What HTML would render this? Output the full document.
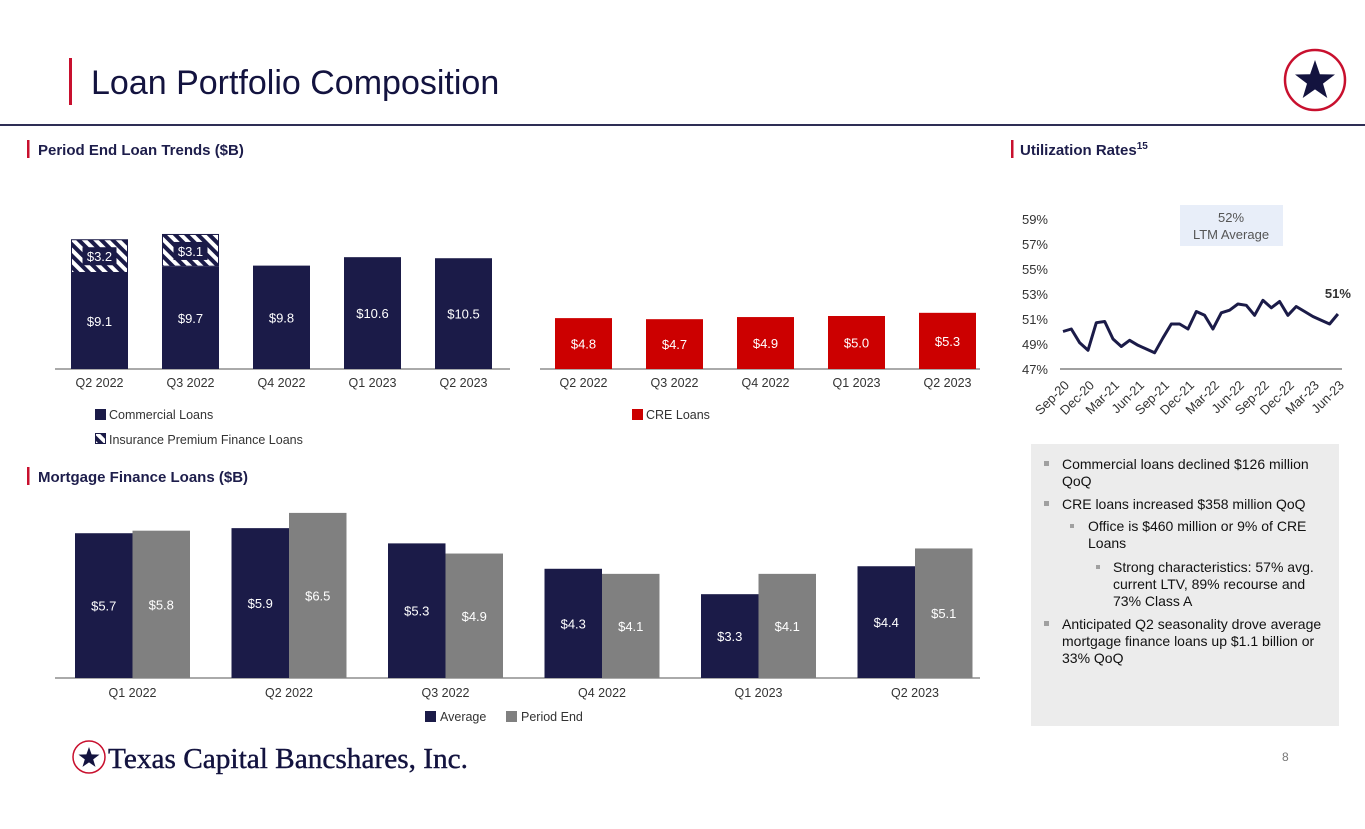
<!DOCTYPE html>
<html><head><meta charset="utf-8"><style>
body{margin:0;background:#fff;}
svg{display:block;font-family:"Liberation Sans",Arial,sans-serif;}
</style></head><body>
<svg id="s" width="1365" height="829" viewBox="0 0 1365 829" xmlns="http://www.w3.org/2000/svg">
<defs>
<pattern id="hatch" patternUnits="userSpaceOnUse" width="8" height="8" patternTransform="rotate(-45)">
<rect width="8" height="8" fill="#1b1b48"/><rect width="4" height="8" fill="#fff"/>
</pattern>
</defs>
<rect x="69" y="58" width="3" height="47" fill="#c8102e"/>
<text x="91" y="94" font-size="34" fill="#13133f">Loan Portfolio Composition</text>
<g>
<circle cx="1315" cy="80" r="30" fill="#fff" stroke="#c8102e" stroke-width="2.5"/>
<polygon id="starTop" fill="#13133f" points=""/>
</g>
<rect x="0" y="124" width="1365" height="2" fill="#2e2e55"/>

<rect x="27" y="140" width="2.5" height="18" fill="#c8102e"/>
<text x="38" y="155" font-size="15" font-weight="bold" fill="#1d1d4b">Period End Loan Trends ($B)</text>
<rect x="1011" y="140" width="2.5" height="18" fill="#c8102e"/>
<text x="1020" y="155" font-size="15" font-weight="bold" fill="#1d1d4b">Utilization Rates<tspan font-size="10" dy="-6">15</tspan></text>
<rect x="27" y="467" width="2.5" height="18" fill="#c8102e"/>
<text x="38" y="482" font-size="15" font-weight="bold" fill="#1d1d4b">Mortgage Finance Loans ($B)</text>

<g id="commChart"></g>
<g id="creChart"></g>
<g id="mortChart"></g>
<g id="utilChart"></g>

<g>
<rect x="95" y="409" width="11" height="11" fill="#1b1b48"/>
<text x="109" y="419" font-size="12.5" fill="#333">Commercial Loans</text></g>
<g>
<rect x="95.5" y="433.5" width="10" height="10" fill="url(#hatch)" stroke="#1b1b48"/>
<text x="109" y="444" font-size="12.5" fill="#333">Insurance Premium Finance Loans</text></g>
<g>
<rect x="632" y="409" width="11" height="11" fill="#cc0000"/>
<text x="646" y="419" font-size="12.5" fill="#333">CRE Loans</text></g>
<g>
<rect x="425" y="711" width="11" height="11" fill="#1b1b48"/>
<text x="440" y="721" font-size="12.5" fill="#333">Average</text></g>
<g>
<rect x="506" y="711" width="11" height="11" fill="#808080"/>
<text x="521" y="721" font-size="12.5" fill="#333">Period End</text></g>

<g>
<rect x="1180" y="205" width="103" height="41" fill="#e8eef9"/>
<text x="1231" y="222" font-size="13" fill="#555" text-anchor="middle">52%</text>
<text x="1231" y="239" font-size="13" fill="#555" text-anchor="middle">LTM Average</text></g>

<g font-size="14" fill="#111">
<rect x="1031" y="444" width="308" height="282" fill="#ececec"/>
<rect x="1044" y="461" width="5" height="5" fill="#a0a0a0"/>
<text x="1062" y="469">Commercial loans declined $126 million</text>
<text x="1062" y="486">QoQ</text>
<rect x="1044" y="501" width="5" height="5" fill="#a0a0a0"/>
<text x="1062" y="509">CRE loans increased $358 million QoQ</text>
<rect x="1070" y="524" width="4" height="4" fill="#a0a0a0"/>
<text x="1088" y="531">Office is $460 million or 9% of CRE</text>
<text x="1088" y="548">Loans</text>
<rect x="1096" y="565" width="4" height="4" fill="#a0a0a0"/>
<text x="1113" y="572">Strong characteristics: 57% avg.</text>
<text x="1113" y="589">current LTV, 89% recourse and</text>
<text x="1113" y="606">73% Class A</text>
<rect x="1044" y="621" width="5" height="5" fill="#a0a0a0"/>
<text x="1062" y="629">Anticipated Q2 seasonality drove average</text>
<text x="1062" y="646">mortgage finance loans up $1.1 billion or</text>
<text x="1062" y="663">33% QoQ</text>
</g>

<g>
<circle cx="89" cy="757" r="16" fill="#fff" stroke="#c8102e" stroke-width="1.5"/>
<polygon id="starFoot" fill="#13133f" points=""/>
<text x="108" y="768" font-family="'Liberation Serif',serif" font-size="28" fill="#13133f" stroke="#13133f" stroke-width="0.4" textLength="360" lengthAdjust="spacingAndGlyphs">Texas Capital Bancshares, Inc.</text>
</g>
<text x="1282" y="761" font-size="12" fill="#777">8</text>
</svg>
<script>
const NS="http://www.w3.org/2000/svg";
function mk(tag,attrs,parent,txt){const e=document.createElementNS(NS,tag);for(const k in attrs)e.setAttribute(k,attrs[k]);if(txt!==undefined)e.textContent=txt;parent.appendChild(e);return e;}
function star(id,cx,cy,R){const r=R*0.4;let p=[];for(let i=0;i<10;i++){const a=-Math.PI/2+i*Math.PI/5;const rr=i%2?r:R;p.push((cx+rr*Math.cos(a)).toFixed(1)+","+(cy+rr*Math.sin(a)).toFixed(1));}document.getElementById(id).setAttribute("points",p.join(" "));}
star("starTop",1315,81,21);star("starFoot",89,758,11);

// ---- data ----
const commCats=["Q2 2022","Q3 2022","Q4 2022","Q1 2023","Q2 2023"];
const commValues=[9.1,9.7,9.8,10.6,10.5];
const ipfValues=[3.2,3.1,0,0,0];
const creCats=["Q2 2022","Q3 2022","Q4 2022","Q1 2023","Q2 2023"];
const creValues=[4.8,4.7,4.9,5.0,5.3];
const mortCats=["Q1 2022","Q2 2022","Q3 2022","Q4 2022","Q1 2023","Q2 2023"];
const mortAverage=[5.7,5.9,5.3,4.3,3.3,4.4];
const mortPeriodEnd=[5.8,6.5,4.9,4.1,4.1,5.1];
const utilMonths=["Sep-20","Oct-20","Nov-20","Dec-20","Jan-21","Feb-21","Mar-21","Apr-21","May-21","Jun-21","Jul-21","Aug-21","Sep-21","Oct-21","Nov-21","Dec-21","Jan-22","Feb-22","Mar-22","Apr-22","May-22","Jun-22","Jul-22","Aug-22","Sep-22","Oct-22","Nov-22","Dec-22","Jan-23","Feb-23","Mar-23","Apr-23","May-23","Jun-23"];
const utilValues=[50.0,50.2,49.1,48.5,50.7,50.8,49.4,48.8,49.3,48.9,48.6,48.3,49.5,50.6,50.6,50.2,51.6,51.3,50.2,51.5,51.7,52.2,52.1,51.3,52.5,51.9,52.4,51.3,52.0,51.6,51.2,50.9,50.6,51.4];
const utilTicks=[47,49,51,53,55,57,59];

// ---- period-end commercial stacked ----
(function(){
 const g=document.getElementById("commChart");
 const base=369,k=10.55,x0=71,step=91,w=57;
 const y=v=>base-v*k;
 mk("line",{x1:55,y1:base,x2:510,y2:base,stroke:"#555","stroke-width":1},g);
 commCats.forEach((c,i)=>{
  const x=x0+i*step;
  const b=mk("rect",{x:x,y:y(commValues[i]),width:w,height:commValues[i]*k,fill:"#1b1b48"},g);
  
  
  const t=mk("text",{x:x+w/2,y:(y(commValues[i])+base)/2+5,"font-size":13,fill:"#fff","text-anchor":"middle"},g,"$"+commValues[i].toFixed(1));
  
  
  if(ipfValues[i]>0){
   const top=y(commValues[i])-ipfValues[i]*k;
   const h=mk("rect",{x:x+0.5,y:top+0.5,width:w-1,height:ipfValues[i]*k-1,fill:"url(#hatch)",stroke:"#1b1b48","stroke-width":1},g);
   
   
   mk("rect",{x:x+w/2-17,y:top+8,width:34,height:18,fill:"#1b1b48"},g);
   const lt=mk("text",{x:x+w/2,y:top+22,"font-size":13,fill:"#fff","text-anchor":"middle"},g,"$"+ipfValues[i].toFixed(1));
   
   
  }
  const l=mk("text",{x:x+w/2,y:387,"font-size":12.5,fill:"#333","text-anchor":"middle"},g,c);
  
  
 });
})();
// ---- CRE ----
(function(){
 const g=document.getElementById("creChart");
 const base=369,k=10.6,x0=555,step=91,w=57;
 mk("line",{x1:540,y1:base,x2:980,y2:base,stroke:"#555","stroke-width":1},g);
 creCats.forEach((c,i)=>{
  const x=x0+i*step,h=creValues[i]*k;
  const b=mk("rect",{x:x,y:base-h,width:w,height:h,fill:"#cc0000"},g);
  
  
  const t=mk("text",{x:x+w/2,y:base-h/2+5,"font-size":13,fill:"#fff","text-anchor":"middle"},g,"$"+creValues[i].toFixed(1));
  
  
  const l=mk("text",{x:x+w/2,y:387,"font-size":12.5,fill:"#333","text-anchor":"middle"},g,c);
  
  
 });
})();
// ---- mortgage ----
(function(){
 const g=document.getElementById("mortChart");
 const base=678,k=25.4,x0=75,step=156.5,w=57.5;
 mk("line",{x1:55,y1:base,x2:980,y2:base,stroke:"#555","stroke-width":1},g);
 mortCats.forEach((c,i)=>{
  const x=x0+i*step;
  [[mortAverage,"#1b1b48","average"],[mortPeriodEnd,"#808080","period-end"]].forEach((s,j)=>{
   const v=s[0][i],h=v*k,bx=x+j*w;
   const b=mk("rect",{x:bx,y:base-h,width:w,height:h,fill:s[1]},g);
   
   
   const t=mk("text",{x:bx+w/2,y:base-h/2+5,"font-size":13,fill:"#fff","text-anchor":"middle"},g,"$"+v.toFixed(1));
   
   
  });
  const l=mk("text",{x:x+w,y:697,"font-size":12.5,fill:"#333","text-anchor":"middle"},g,c);
  
  
 });
})();
// ---- utilization line ----
(function(){
 const g=document.getElementById("utilChart");
 const x0=1063,dx=8.33,base=369,k=12.5,ymin=47;
 const X=i=>x0+i*dx, Y=v=>base-(v-ymin)*k;
 mk("line",{x1:1060,y1:base,x2:1342,y2:base,stroke:"#808080","stroke-width":1.5},g);
 utilTicks.forEach(t=>{
  const e=mk("text",{x:1048,y:Y(t)+5,"font-size":13,fill:"#333","text-anchor":"end"},g,t+"%");
  
  
 });
 const pts=utilValues.map((v,i)=>X(i).toFixed(1)+","+Y(v).toFixed(1)).join(" ");
 const pl=mk("polyline",{points:pts,fill:"none",stroke:"#1b1b48","stroke-width":3,"stroke-linejoin":"round"},g);
 
 
 utilMonths.forEach((m,i)=>{
  if(i%3!==0)return;
  const ax=X(i)+7, ay=base+17;
  const e=mk("text",{x:ax,y:ay,"font-size":13,fill:"#333","text-anchor":"end",transform:`rotate(-45 ${ax} ${ay})`},g,m);
  
  
 });
 const last=utilValues.length-1;
 const lab=mk("text",{x:X(last),y:Y(utilValues[last])-16,"font-size":13,"font-weight":"bold",fill:"#333","text-anchor":"middle"},g,Math.round(utilValues[last])+"%");
 
 
})();
</script>
</body></html>
